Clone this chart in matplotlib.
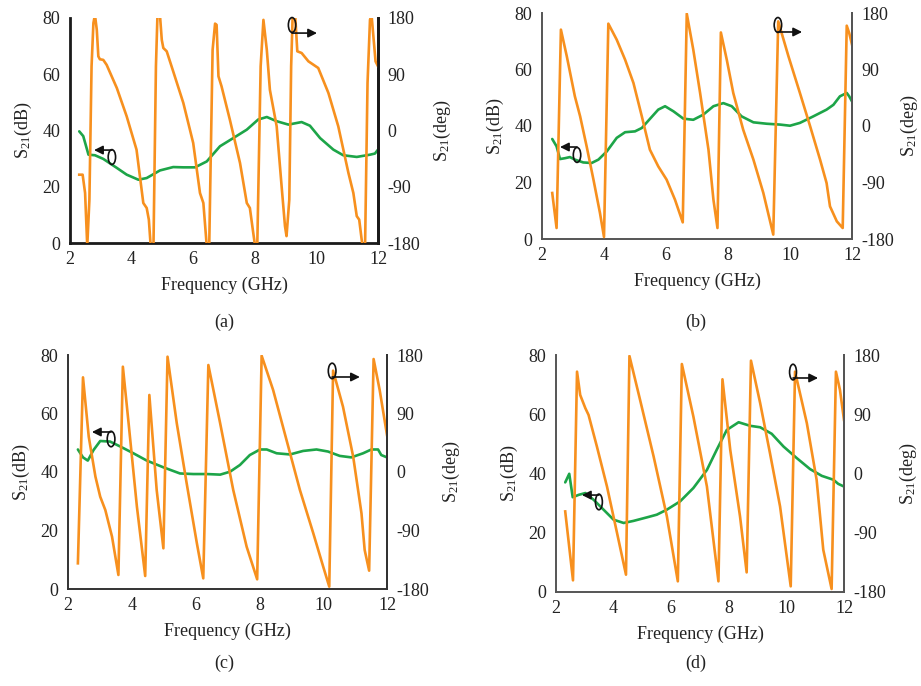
import matplotlib
matplotlib.use("Agg")
import matplotlib.pyplot as plt
from matplotlib.patches import Ellipse

plt.rcParams['font.family'] = ['Liberation Serif', 'DejaVu Serif']
plt.rcParams['mathtext.fontset'] = 'custom'
plt.rcParams['mathtext.rm'] = 'Liberation Serif'
plt.rcParams['mathtext.it'] = 'Liberation Serif:italic'
plt.rcParams['axes.unicode_minus'] = False

# ---------------- data ----------------
# (a)
a_mag_f = [2.30, 2.43, 2.60, 2.81, 3.08, 3.52, 3.84, 4.22, 4.49, 4.92, 5.35, 5.68, 6.06, 6.44, 6.87,
           7.30, 7.74, 8.11, 8.39, 8.71, 9.09, 9.52, 9.79, 10.12, 10.55, 10.87, 11.31, 11.74, 11.90, 12.0]
a_mag = [39.7, 38.0, 31.4, 31.2, 29.9, 26.7, 24.3, 22.5, 23.1, 25.8, 27.0, 26.9, 26.9, 29.0, 34.4,
         37.3, 40.3, 43.9, 44.8, 43.3, 42.1, 43.0, 41.7, 37.3, 33.2, 31.2, 30.6, 31.4, 31.8, 33.2]
a_ph_f = [2.30, 2.41, 2.49, 2.56, 2.63, 2.70, 2.76, 2.81, 2.87, 2.92, 2.97, 3.08, 3.19, 3.52, 3.84,
          4.16, 4.38, 4.49, 4.56, 4.62, 4.71, 4.79, 4.84, 4.92, 4.98, 5.03, 5.14, 5.35, 5.68, 6.00,
          6.22, 6.33, 6.44, 6.52, 6.63, 6.71, 6.76, 6.82, 6.92, 7.19, 7.52, 7.74, 7.84, 7.95, 8.01,
          8.08, 8.19, 8.28, 8.39, 8.49, 8.71, 8.87, 8.98, 9.03, 9.12, 9.18, 9.23, 9.31, 9.38, 9.52,
          9.74, 10.06, 10.39, 10.71, 11.04, 11.20, 11.31, 11.39, 11.47, 11.50, 11.58, 11.66, 11.74,
          11.79, 11.85, 11.92, 12.0]
a_ph = [-70.7, -70.7, -100, -185, -110.7, 102.7, 172, 185, 161, 118.7, 114, 113, 105, 68, 22.7,
        -30.7, -116, -124, -142.7, -185, -185, 102.7, 185, 185, 145, 132, 126.7, 94.7, 44, -20,
        -100, -116, -185, -185, 129, 171, 169, 86.7, 70.7, 17.3, -52, -116, -124, -164, -185,
        -185, 102.7, 177, 129, 65, 6.7, -89, -153, -169, -110.7, 102.7, 185, 185, 126.7, 124,
        110.7, 100, 60, 6.7, -68, -100, -137, -142.7, -174.7, -185, -185, 76, 177,
        185, 150.7, 110.7, 102.7]

# (b)
b_mag_f = [2.33, 2.47, 2.58, 2.74, 2.90, 3.06, 3.33, 3.60, 3.82, 4.09, 4.41, 4.68, 5.00, 5.22, 5.48,
           5.75, 5.97, 6.24, 6.56, 6.88, 7.20, 7.53, 7.85, 8.12, 8.44, 8.82, 9.25, 9.68, 10.0, 10.32,
           10.75, 11.18, 11.40, 11.61, 11.83, 11.91, 12.0]
b_mag = [35.4, 32.8, 28.3, 28.6, 29.0, 28.1, 27.1, 26.9, 28.1, 31.0, 35.8, 37.8, 38.1, 39.3, 42.5,
         45.8, 47.0, 45.2, 42.6, 42.2, 44.0, 47.0, 48.1, 47.0, 43.4, 41.3, 40.8, 40.5, 40.1, 41.1,
         43.4, 45.8, 47.5, 50.5, 51.7, 50.5, 48.7]
b_ph_f = [2.33, 2.47, 2.61, 2.80, 3.06, 3.23, 3.44, 3.66, 3.87, 4.00, 4.14, 4.41, 4.68, 4.95, 5.22,
          5.48, 5.75, 6.02, 6.29, 6.54, 6.67, 6.88, 7.10, 7.37, 7.53, 7.66, 7.77, 7.96, 8.17, 8.49,
          8.82, 9.14, 9.46, 9.62, 9.95, 10.32, 10.65, 10.97, 11.18, 11.29, 11.51, 11.70, 11.83,
          11.91, 12.0]
b_ph = [-106.7, -162.5, 153.5, 111, 47.3, 15.4, -32.4, -85.5, -138.6, -176.8, 163, 137.5, 105.7,
        68.5, 15.4, -37.7, -64.3, -85.5, -117.4, -153.5, 179, 121.6, 52.6, -37.7, -117.4, -162.5,
        149, 105.7, 52.6, -5.9, -53.6, -106.7, -173, 166.7, 111, 52.6, -0.5, -53.6, -90.8, -128,
        -151.9, -162.5, 159.8, 148, 129.6]

# (c)
c_mag_f = [2.31, 2.47, 2.62, 2.80, 3.01, 3.32, 3.64, 4.05, 4.47, 4.99, 5.51, 5.93, 6.35, 6.77, 7.08,
           7.39, 7.70, 8.02, 8.23, 8.54, 8.96, 9.37, 9.79, 10.15, 10.52, 10.88, 11.25, 11.51, 11.72,
           11.82, 12.0]
c_mag = [47.7, 45.0, 43.9, 47.5, 50.6, 50.4, 48.7, 46.4, 43.9, 41.6, 39.5, 39.3, 39.3, 39.1, 40.1,
         42.4, 45.8, 47.7, 47.7, 46.4, 46.0, 47.2, 47.7, 47.0, 45.5, 45.0, 46.4, 47.7, 47.7, 45.8, 45.0]
c_ph_f = [2.31, 2.47, 2.65, 2.86, 3.01, 3.17, 3.38, 3.58, 3.72, 3.90, 4.16, 4.42, 4.55, 4.78, 4.99,
          5.12, 5.41, 5.72, 6.04, 6.24, 6.40, 6.77, 7.18, 7.60, 7.93, 8.07, 8.43, 8.85, 9.27, 9.69,
          10.0, 10.19, 10.31, 10.62, 10.94, 11.20, 11.30, 11.44, 11.58, 11.77, 12.0]
c_ph = [-140.5, 145.6, 54.4, -7.2, -38, -58.5, -99.5, -158.4, 162, 74.9, -53.3, -160, 118.5, -27.7,
        -117.4, 177.4, 74.9, -17.4, -109.7, -163.6, 164.6, 74.9, -27.7, -114.9, -165.1, 179, 126.2,
        49.2, -27.7, -94.4, -145.6, -176.4, 155.9, 100.5, 23.6, -63.6, -120, -151.8, 173.8, 126.2, 56.9]

# (d)
d_mag_f = [2.32, 2.46, 2.58, 2.79, 3.02, 3.31, 3.65, 4.00, 4.35, 4.69, 5.16, 5.50, 5.85, 6.31, 6.77,
           7.24, 7.58, 7.93, 8.34, 8.74, 9.09, 9.49, 9.90, 10.36, 10.82, 11.23, 11.63, 11.80, 12.0]
d_mag = [37.0, 39.9, 32.0, 32.8, 33.4, 31.1, 27.8, 24.4, 23.3, 24.0, 25.2, 26.1, 27.8, 30.6, 35.1,
         41.2, 48.0, 54.7, 57.3, 56.1, 55.6, 53.4, 49.1, 45.2, 41.5, 39.2, 37.9, 36.5, 35.6]
d_ph_f = [2.32, 2.59, 2.73, 2.84, 3.02, 3.13, 3.42, 3.77, 4.12, 4.43, 4.55, 4.92, 5.39, 5.85, 6.23,
          6.37, 6.77, 7.24, 7.64, 7.78, 8.05, 8.39, 8.62, 8.77, 9.09, 9.43, 9.78, 10.15, 10.30,
          10.71, 11.05, 11.28, 11.57, 11.72, 11.86, 12.0]
d_ph = [-57.6, -162.3, 154.7, 119.3, 99.1, 89, 41, -19.7, -90.5, -153.7, 178.5, 111.7, 25.7, -65.2,
        -163.8, 166.3, 86.5, -19.7, -163.8, 143.1, 35.9, -65.2, -150.2, 171.4, 106.7, 30.8, -50,
        -171.4, 154.7, 76.4, -9.6, -115.8, -175.4, 154.7, 126.9, 81.4]

captions = ['(a)', '(b)', '(c)', '(d)']
x_ticks = [2, 4, 6, 8, 10, 12]
y_ticks_db = [0, 20, 40, 60, 80]
y_ticks_deg = [-180, -90, 0, 90, 180]

ORANGE = '#F7901E'
GREEN = '#1DA548'
TXT = '#222222'

W, H = 921, 686
fig = plt.figure(figsize=(W / 100, H / 100), dpi=100)

# axes boxes in pixels: left, top, right, bottom
boxes = [(70, 18, 378, 243), (542, 13, 852, 239), (68, 355, 387, 589), (556, 355, 844, 592)]
spine_cols = ['#1a1a1a', '#555555', '#333333', '#555555']
spine_w = [2.0, 1.4, 1.4, 1.4]
right_pad = [8, 3, 8, 8]
# annotation positions in axes fraction: (ellipse x, ellipse y, arrow y, arrow end x)
ann_left = [(0.136, 0.382, 0.413, 0.078), (0.113, 0.372, 0.407, 0.058),
            (0.135, 0.641, 0.671, 0.075), (0.149, 0.380, 0.409, 0.090)]
ann_right = [(0.721, 0.969, 0.933, 0.802), (0.761, 0.947, 0.916, 0.839),
             (0.828, 0.932, 0.906, 0.915), (0.823, 0.928, 0.903, 0.910)]
cap_pos = [(224, 322), (696, 322), (224, 663), (696, 663)]

data = [(a_mag_f, a_mag, a_ph_f, a_ph), (b_mag_f, b_mag, b_ph_f, b_ph),
        (c_mag_f, c_mag, c_ph_f, c_ph), (d_mag_f, d_mag, d_ph_f, d_ph)]

FS = 13
for i, (l, t, r, b) in enumerate(boxes):
    ax = fig.add_axes([l / W, 1 - b / H, (r - l) / W, (b - t) / H])
    mf, mv, pf, pv = data[i]
    ax.plot(mf, mv, color=GREEN, lw=1.9, solid_capstyle='round', solid_joinstyle='round')
    ax.set_xlim(2, 12)
    ax.set_ylim(0, 80)
    ax.set_xticks(x_ticks)
    ax.set_yticks(y_ticks_db)
    ax.tick_params(axis='y', length=0, labelsize=FS, colors=TXT, pad=7)
    ax.tick_params(axis='x', length=0, labelsize=FS, colors=TXT, pad=6)
    ax.set_xlabel('Frequency (GHz)', fontsize=FS, color=TXT, labelpad=6)
    ax.set_ylabel(r'S$_{\mathregular{21}}$(dB)', fontsize=FS, color=TXT, labelpad=6)
    ax2 = ax.twinx()
    ax2.plot(pf, pv, color=ORANGE, lw=1.9, solid_joinstyle='round')
    ax2.set_ylim(-180, 180)
    ax2.set_yticks(y_ticks_deg)
    ax2.tick_params(length=0, labelsize=FS, colors=TXT, pad=7)
    ax2.set_ylabel(r'S$_{\mathregular{21}}$(deg)', fontsize=FS, color=TXT, labelpad=right_pad[i])
    for a in (ax, ax2):
        a.spines['top'].set_visible(False)
        for s in ('left', 'right', 'bottom'):
            a.spines[s].set_color(spine_cols[i])
            a.spines[s].set_linewidth(spine_w[i])
    ax2.spines['left'].set_visible(False)
    ax2.spines['bottom'].set_visible(False)

    # annotations
    for (ex, ey, ay, axe) in (ann_left[i], ann_right[i]):
        ax2.add_patch(Ellipse((ex, ey), 0.024, 0.066, transform=ax2.transAxes, fill=False,
                              ec='#111111', lw=1.2, clip_on=False, zorder=5))
        ax2.annotate('', xy=(axe, ay), xytext=(ex, ay), xycoords='axes fraction',
                     arrowprops=dict(arrowstyle='-|>', color='#111111', lw=1.2,
                                     mutation_scale=13, shrinkA=0, shrinkB=0),
                     zorder=5)

    cx, cy = cap_pos[i]
    fig.text(cx / W, 1 - cy / H, captions[i], ha='center', va='center', fontsize=FS,
             color=TXT)

fig.savefig('out.png', dpi=100)
